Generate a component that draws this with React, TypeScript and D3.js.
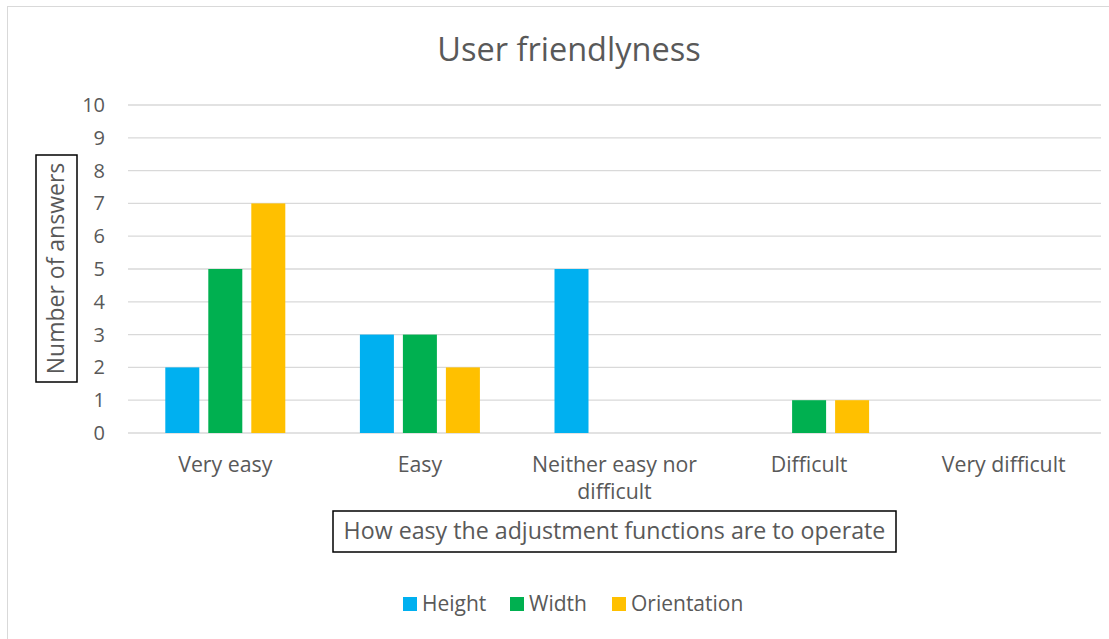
import React from "react";
import * as d3 from "d3";

const categories = ["Very easy", "Easy", "Neither easy nor difficult", "Difficult", "Very difficult"];
const seriesNames = ["Height", "Width", "Orientation"];
const heightValues = [2, 3, 5, 0, 0];
const widthValues = [5, 3, 0, 1, 0];
const orientationValues = [7, 2, 0, 1, 0];
const yTicks = [0, 1, 2, 3, 4, 5, 6, 7, 8, 9, 10];

const colors = ["#00B0F0", "#00B050", "#FFC000"];
const FONT = "'Open Sans', Lato, sans-serif";
const TEXT = "#595959";

const App: React.FC = () => {
  const W = 1109;
  const H = 639;
  const plot = { left: 128, right: 1101, top: 105, bottom: 433 };

  const series = [heightValues, widthValues, orientationValues];

  const x = d3.scaleBand<string>().domain(categories).range([plot.left, plot.right]).padding(0);
  const y = d3.scaleLinear().domain([0, 10]).range([plot.bottom, plot.top]);

  // group of bars inside each category
  const groupW = 120;
  const inner = d3
    .scaleBand<string>()
    .domain(seriesNames)
    .range([0, groupW])
    .paddingInner(9 / 43)
    .paddingOuter(0);

  // label wrapping like Excel
  const wrapped: Record<string, string[]> = {
    "Neither easy nor difficult": ["Neither easy nor", "difficult"],
  };

  const legendItems = [
    { name: "Height", sx: 403, tx: 422 },
    { name: "Width", sx: 510, tx: 529 },
    { name: "Orientation", sx: 612, tx: 631 },
  ];

  return (
    <svg
      width={W}
      height={H}
      style={{ position: "absolute", left: 0, top: 0, background: "#fff" }}
      fontFamily={FONT}
    >
      <rect x={7.5} y={6.5} width={1110} height={640} fill="#fff" stroke="#d9d9d9" strokeWidth={1} />

      <text x={569} y={61} textAnchor="middle" fontSize={32.5} fill={TEXT}>
        User friendlyness
      </text>

      {/* gridlines */}
      {yTicks.map((t) => (
        <line
          key={t}
          x1={plot.left}
          x2={plot.right}
          y1={y(t)}
          y2={y(t)}
          stroke="#d9d9d9"
          strokeWidth={1.3}
        />
      ))}

      {/* y tick labels */}
      {yTicks.map((t) => (
        <text key={t} x={105} y={y(t) + 7} textAnchor="end" fontSize={20} fill={TEXT}>
          {t}
        </text>
      ))}

      {/* bars */}
      {categories.map((c, ci) => {
        const cx = (x(c) as number) + x.bandwidth() / 2 - groupW / 2;
        return series.map((vals, si) =>
          vals[ci] > 0 ? (
            <rect
              key={c + si}
              x={cx + (inner(seriesNames[si]) as number)}
              y={y(vals[ci])}
              width={inner.bandwidth()}
              height={y(0) - y(vals[ci])}
              fill={colors[si]}
            />
          ) : null
        );
      })}

      {/* category labels */}
      {categories.map((c) => {
        const lines = wrapped[c] || [c];
        const cx = (x(c) as number) + x.bandwidth() / 2;
        return (
          <text key={c} x={cx} y={472} textAnchor="middle" fontSize={21.3} fill={TEXT}>
            {lines.map((l, i) => (
              <tspan key={i} x={cx} dy={i === 0 ? 0 : 27}>
                {l}
              </tspan>
            ))}
          </text>
        );
      })}

      {/* y axis title */}
      <rect x={36} y={155} width={41} height={227} fill="#fff" stroke="#000" strokeWidth={1.5} />
      <text
        transform={`translate(64, ${(155 + 382) / 2}) rotate(-90)`}
        textAnchor="middle"
        fontSize={23}
        fill={TEXT}
      >
        Number of answers
      </text>

      {/* x axis title */}
      <rect x={333} y={511} width={563} height={41} fill="#fff" stroke="#000" strokeWidth={1.5} />
      <text x={614.5} y={539} textAnchor="middle" fontSize={23.2} fill={TEXT}>
        How easy the adjustment functions are to operate
      </text>

      {/* legend */}
      {legendItems.map((l, i) => (
        <g key={l.name}>
          <rect x={l.sx} y={597} width={14} height={14} fill={colors[i]} />
          <text x={l.tx} y={611} fontSize={21} fill={TEXT}>
            {l.name}
          </text>
        </g>
      ))}
    </svg>
  );
};

export default App;
